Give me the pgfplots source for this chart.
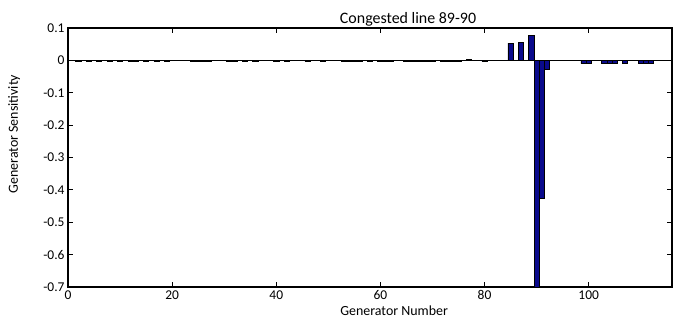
\documentclass[border=0pt]{standalone}
\usepackage{fontspec}
\setmainfont{Carlito}
\usepackage{pgfplots}
\pgfplotsset{compat=1.18}
\definecolor{barblue}{RGB}{10,10,140}
\begin{document}
\begin{tikzpicture}
\begin{axis}[name=ax, scale only axis, width=604bp, height=259bp,
  xmin=0, xmax=116, ymin=-0.7, ymax=0.1,
  xtick={0,20,40,60,80,100},
  ytick={-0.7,-0.6,-0.5,-0.4,-0.3,-0.2,-0.1,0,0.1},
  yticklabels={-0.7,-0.6,-0.5,-0.4,-0.3,-0.2,-0.1,0,0.1},
  tick align=inside, major tick length=5bp,
  tick style={black, line width=1.2bp},
  axis line style={line width=1.6bp},
  /pgf/number format/assume math mode=true,
  ticklabel style={font=\fontsize{13.5}{15}\selectfont},
  label style={font=\fontsize{14}{16}\selectfont},
  every axis title shift=0pt,
  title style={font=\fontsize{16}{18}\selectfont, at={(axis description cs:0.563,1)}, anchor=base, yshift=4bp},
  title={Congested line 89-90},
  xlabel={Generator Number},
  xlabel style={at={(axis description cs:0.54,0)}, anchor=base, yshift=-29bp},
  ylabel={Generator Sensitivity},
  ylabel style={at={(axis description cs:-0.089,0.59)}, anchor=center},
  clip=false,
]
\addplot[black, line width=1.1bp] coordinates {(0,0) (116,0)};
\addplot[ybar, bar width=1, fill=barblue, draw=black, line width=0.7bp] coordinates {
(2,-0.003) (4,-0.003) (6,-0.003) (8,-0.003) (10,-0.003) (12,-0.003) (13,-0.003)
(15,-0.003) (17,-0.003) (19,-0.003) (24,-0.003) (25,-0.003) (26,-0.003) (27,-0.003)
(31,-0.003) (32,-0.003) (34,-0.003) (36,-0.003) (40,-0.003) (42,-0.003) (46,-0.003)
(49,-0.003) (53,-0.003) (54,-0.003) (55,-0.003) (56,-0.003) (58,-0.003) (60,-0.003)
(61,-0.003) (62,-0.003) (65,-0.003) (66,-0.003) (67,-0.003) (68,-0.003) (69,-0.003)
(70,-0.003) (72,-0.003) (73,-0.003) (74,-0.003) (75,-0.003) (77,0.004) (80,-0.004)
(85,0.053) (87,0.056) (89,0.077) (90,-0.7) (91,-0.426) (92,-0.028)
(99,-0.010) (100,-0.010) (103,-0.010) (104,-0.010) (105,-0.010) (107,-0.010)
(110,-0.010) (111,-0.010) (112,-0.010)
};
\end{axis}
\pgfresetboundingbox
\path ([shift={(-68bp,-33bp)}]ax.south west) rectangle ([shift={(1bp,28bp)}]ax.north east);
\end{tikzpicture}
\end{document}
